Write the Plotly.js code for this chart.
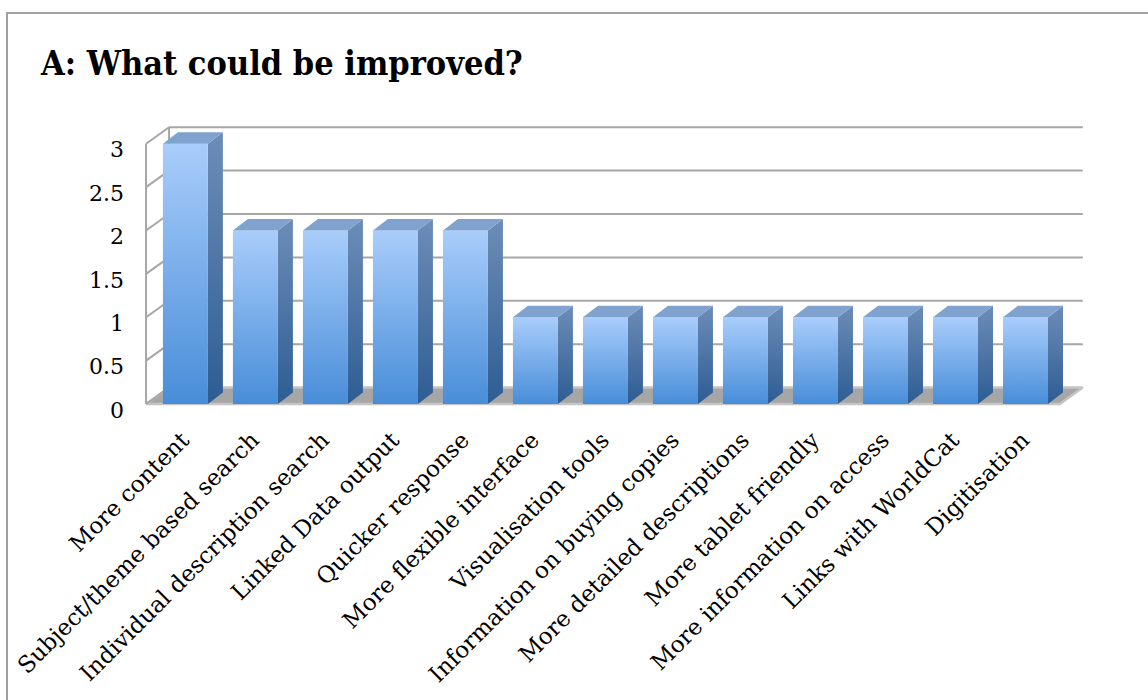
<!DOCTYPE html>
<html>
<head>
<meta charset="utf-8">
<script src="https://cdn.plot.ly/plotly-3.0.1.min.js"></script>
<style>html,body{margin:0;padding:0;background:#fff;}#chart{width:1148px;height:700px;}</style>
</head>
<body>
<div id="chart"></div>
<script>
// ---- data ----
const categories = ["More content", "Subject/theme based search", "Individual description search",
  "Linked Data output", "Quicker response", "More flexible interface", "Visualisation tools",
  "Information on buying copies", "More detailed descriptions", "More tablet friendly",
  "More information on access", "Links with WorldCat", "Digitisation"];
const values = [3, 2, 2, 2, 2, 1, 1, 1, 1, 1, 1, 1, 1];
const yTickVals = [0, 0.5, 1, 1.5, 2, 2.5, 3];
const yTickText = ["0", "0.5", "1", "1.5", "2", "2.5", "3"];
const titleText = "A: What could be improved?";

// ---- geometry (style) ----
const W = 1148, H = 700;
const xRange = [-0.62, 12.85], yRange = [-0.08, 3.25];
const M = {l: 142, r: 63, t: 122, b: 289};
const pw = W - M.l - M.r, ph = H - M.t - M.b;
const pxX = pw / (xRange[1] - xRange[0]);
const pxY = ph / (yRange[1] - yRange[0]);
// 3D wall offset (pixels -> data units)
const wallDX = 23 / pxX, wallDY = 16.5 / pxY;
const barHalf = 22.5 / pxX, barDX = 15 / pxX, barDY = 11.5 / pxY;
const floorLeft = -0.562, floorRight = categories.length - 1 + 0.49;
const yMax = yTickVals[yTickVals.length - 1];

const gridColor = "#a6a6a6";
const traces = [];
function poly(xs, ys, opts) {
  traces.push(Object.assign({type: "scatter", mode: "lines", x: xs, y: ys,
    hoverinfo: "skip", showlegend: false}, opts));
}
// floor
poly([floorLeft, floorRight, floorRight + wallDX, floorLeft + wallDX, floorLeft],
     [0, 0, wallDY, wallDY, 0],
     {fill: "toself", fillcolor: "#a6a6a6", line: {color: "#c4c4c4", width: 2.5}});
// back wall gridlines
yTickVals.forEach(v => {
  if (v === 0) return;
  poly([floorLeft + wallDX, floorRight + wallDX], [v + wallDY, v + wallDY],
       {line: {color: gridColor, width: 2}});
});
// left wall: diagonals and front vertical
yTickVals.forEach(v => {
  poly([floorLeft, floorLeft + wallDX], [v, v + wallDY], {line: {color: gridColor, width: 2}});
});
poly([floorLeft, floorLeft], [0, yMax], {line: {color: gridColor, width: 2}});
poly([floorLeft + wallDX, floorLeft + wallDX], [wallDY, yMax + wallDY], {line: {color: gridColor, width: 2}});

// bars
values.forEach((v, i) => {
  const a = i - barHalf, b = i + barHalf;
  // side face
  poly([b, b + barDX, b + barDX, b, b], [0, barDY, v + barDY, v, 0],
       {fill: "toself", line: {width: 0, color: "rgba(0,0,0,0)"},
        fillgradient: {type: "vertical", start: 0, stop: v + barDY,
          colorscale: [[0, "#2d5d93"], [1, "#6d8db8"]]}});
  // front face
  poly([a, b, b, a, a], [0, 0, v, v, 0],
       {fill: "toself", line: {width: 0, color: "rgba(0,0,0,0)"},
        fillgradient: {type: "vertical", start: 0, stop: v,
          colorscale: [[0, "#488dd8"], [1, "#a9cdfb"]]}});
  // top face
  poly([a, b, b + barDX, a + barDX, a], [v, v, v + barDY, v + barDY, v],
       {fill: "toself", fillcolor: "#7fa2cf", line: {width: 0, color: "rgba(0,0,0,0)"}});
});

const fontFam = "DejaVu Serif";
const layout = {
  width: W, height: H,
  margin: M,
  paper_bgcolor: "#ffffff", plot_bgcolor: "rgba(0,0,0,0)",
  showlegend: false,
  title: {text: titleText, x: 41 / W, xanchor: "left", xref: "container",
    y: 1 - 63 / H, yanchor: "middle", yref: "container",
    font: {family: "DejaVu Serif Condensed, Liberation Serif, serif", size: 34, weight: 700, color: "#000"}},
  xaxis: {range: xRange, tickmode: "array", tickvals: categories.map((c, i) => i), ticktext: categories,
    tickangle: -45, showgrid: false, zeroline: false, showline: false, ticks: "",
    ticklabelstandoff: 10, ticklabelshift: -3,
    tickfont: {family: fontFam, size: 23, color: "#000"}, automargin: false, fixedrange: true},
  yaxis: {range: yRange, tickmode: "array", tickvals: yTickVals, ticktext: yTickText,
    showgrid: false, zeroline: false, showline: false, ticks: "", ticklabelstandoff: 17,
    ticklabelshift: 6,
    tickfont: {family: fontFam, size: 22, color: "#000"}, automargin: false, fixedrange: true},
  shapes: [{type: "rect", xref: "paper", yref: "paper",
    x0: (7 - M.l) / pw, x1: (1170 - M.l) / pw,
    y0: (H - M.b - 720) / ph, y1: (H - M.b - 13) / ph,
    line: {color: "#a0a0a0", width: 2}, fillcolor: "rgba(0,0,0,0)", layer: "below"}]
};
Plotly.newPlot("chart", traces, layout, {displayModeBar: false, staticPlot: true});
</script>
</body>
</html>
